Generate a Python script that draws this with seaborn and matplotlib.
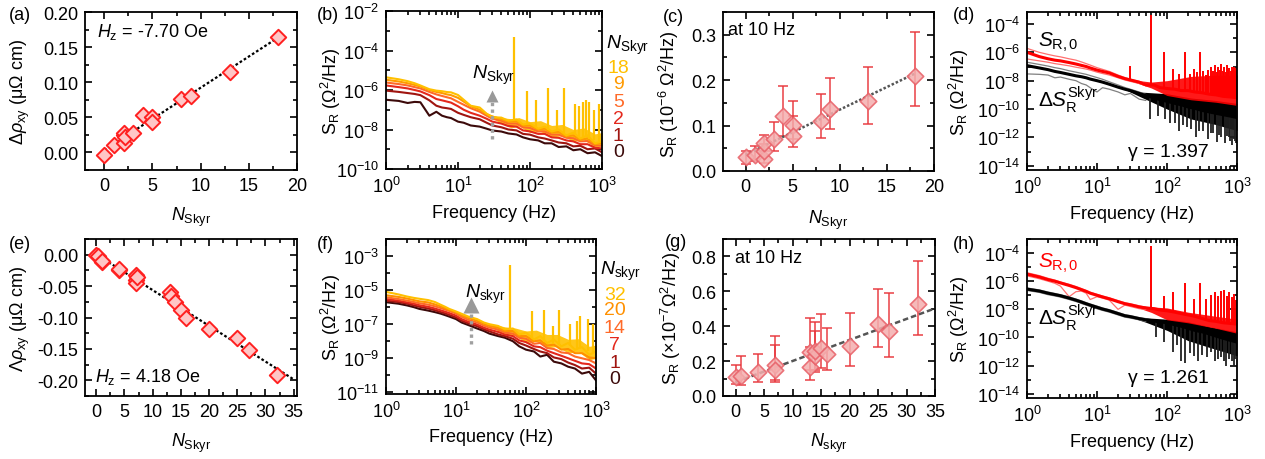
import numpy as np
import matplotlib
matplotlib.use("Agg")
import matplotlib.pyplot as plt
import matplotlib.ticker as mticker
import seaborn as sns

# ---------------- values ----------------
# (a) Hz = -7.70 Oe
n_a = [0, 1, 2, 2, 2, 2.2, 3, 4, 5, 5, 8, 9, 13, 18]
rho_a = [-0.004, 0.010, 0.014, 0.025, 0.027, 0.022, 0.028, 0.054, 0.051, 0.044,
         0.076, 0.080, 0.115, 0.164]
fit_range_a = [0, 18]

# (e) Hz = 4.18 Oe
n_e = [0, 0.3, 1, 1, 4, 4, 7, 7, 7, 7.2, 13, 13.2, 14, 15, 16, 20, 25, 27, 32]
rho_e = [0.0, -0.002, -0.011, -0.010, -0.024, -0.022, -0.033, -0.040, -0.045, -0.035,
         -0.060, -0.066, -0.076, -0.088, -0.101, -0.118, -0.132, -0.151, -0.192]
fit_range_e = [0, 35]

# (c) S_R at 10 Hz (1e-6 Ohm^2/Hz), with error bar ends
n_c = [0, 1, 2, 2, 2, 3, 4, 5, 5, 8, 9, 13, 18]
s_c = [0.030, 0.035, 0.027, 0.045, 0.062, 0.070, 0.120, 0.101, 0.078, 0.110, 0.136, 0.155, 0.210]
lo_c = [0.016, 0.023, 0.018, 0.032, 0.045, 0.044, 0.078, 0.070, 0.052, 0.073, 0.092, 0.103, 0.144]
hi_c = [0.044, 0.055, 0.036, 0.060, 0.080, 0.107, 0.187, 0.122, 0.153, 0.169, 0.205, 0.229, 0.306]
fit_range_c = [0, 18]

# (g) S_R at 10 Hz (1e-7 Ohm^2/Hz)
n_g = [0, 1, 4, 7, 7, 13, 13, 14, 14, 15, 16, 20, 25, 27, 32]
s_g = [0.109, 0.115, 0.137, 0.176, 0.150, 0.166, 0.252, 0.230, 0.260, 0.277, 0.240, 0.285,
       0.415, 0.370, 0.526]
lo_g = [0.067, 0.062, 0.080, 0.094, 0.080, 0.090, 0.150, 0.140, 0.150, 0.160, 0.150, 0.170,
        0.280, 0.225, 0.350]
hi_g = [0.180, 0.230, 0.240, 0.345, 0.290, 0.445, 0.280, 0.425, 0.370, 0.470, 0.390, 0.478,
        0.615, 0.590, 0.773]
fit_range_g = [0, 35]

# frequency grid of the spectra (Hz)
freq = [1, 1.5, 2, 2.5, 3, 4, 5, 6, 7, 8, 10, 12, 15, 20, 25, 30, 40, 50, 65, 80,
        100, 130, 160, 200, 250, 320, 400, 500, 630, 800, 1000]

# (b) spectra, N_Skyr = 0, 1, 2, 5, 9, 18
n_b = [0, 1, 2, 5, 9, 18]
sr_b = {
    0: [3.2e-7, 2.8e-7, 2.2e-7, 2.5e-7, 2.4e-7, 5.0e-8, 7.9e-8, 5.0e-8, 4.2e-8, 3.8e-8,
        2.5e-8, 2.2e-8, 1.6e-8, 1.4e-8, 1.1e-8, 8.9e-9, 7.9e-9, 6.3e-9, 5.6e-9, 4.0e-9,
        3.2e-9, 2.8e-9, 2.0e-9, 2.0e-9, 1.3e-9, 1.4e-9, 8.9e-10, 1.0e-9, 6.3e-10, 7.0e-10,
        4.5e-10],
    1: [9.3e-7, 8.0e-7, 7.0e-7, 6.3e-7, 5.5e-7, 3.0e-7, 1.6e-7, 1.3e-7, 1.2e-7, 1.1e-7,
        7.0e-8, 5.5e-8, 4.2e-8, 3.3e-8, 2.2e-8, 1.6e-8, 1.3e-8, 1.0e-8, 9.0e-9, 6.0e-9,
        5.5e-9, 4.0e-9, 3.5e-9, 2.8e-9, 2.2e-9, 2.0e-9, 1.4e-9, 1.5e-9, 1.0e-9, 1.1e-9,
        7.0e-10],
    2: [1.7e-6, 1.4e-6, 1.2e-6, 1.0e-6, 8.5e-7, 5.5e-7, 3.5e-7, 3.0e-7, 2.6e-7, 2.3e-7,
        1.5e-7, 1.0e-7, 7.0e-8, 5.0e-8, 3.5e-8, 2.5e-8, 2.0e-8, 1.5e-8, 1.4e-8, 9.0e-9,
        8.0e-9, 6.0e-9, 6.0e-9, 4.0e-9, 3.8e-9, 2.8e-9, 2.5e-9, 1.8e-9, 1.8e-9, 1.2e-9,
        1.1e-9],
    5: [2.4e-6, 2.0e-6, 1.7e-6, 1.4e-6, 1.2e-6, 8.0e-7, 6.0e-7, 5.0e-7, 4.3e-7, 3.8e-7,
        2.5e-7, 1.8e-7, 1.2e-7, 8.0e-8, 5.0e-8, 3.5e-8, 2.8e-8, 2.0e-8, 2.0e-8, 1.3e-8,
        1.2e-8, 8.0e-9, 8.0e-9, 5.5e-9, 5.5e-9, 3.8e-9, 3.6e-9, 2.5e-9, 2.6e-9, 1.6e-9,
        1.5e-9],
    9: [3.3e-6, 2.7e-6, 2.2e-6, 1.8e-6, 1.5e-6, 1.0e-6, 8.0e-7, 7.0e-7, 6.0e-7, 5.5e-7,
        4.0e-7, 2.6e-7, 1.5e-7, 1.0e-7, 6.0e-8, 4.5e-8, 3.3e-8, 2.5e-8, 2.6e-8, 1.6e-8,
        1.6e-8, 1.0e-8, 1.1e-8, 7.0e-9, 7.5e-9, 4.5e-9, 5.0e-9, 3.0e-9, 3.5e-9, 1.8e-9,
        2.0e-9],
    18: [4.4e-6, 3.5e-6, 2.8e-6, 2.2e-6, 1.7e-6, 1.1e-6, 9.3e-7, 8.7e-7, 7.9e-7, 7.6e-7,
         5.6e-7, 3.2e-7, 1.6e-7, 1.3e-7, 6.3e-8, 4.2e-8, 4.0e-8, 2.8e-8, 3.2e-8, 1.8e-8,
         2.0e-8, 1.1e-8, 1.4e-8, 7.9e-9, 1.0e-8, 5.0e-9, 7.0e-9, 3.5e-9, 5.0e-9, 2.0e-9,
         2.5e-9],
}
# dense noise band of the top (gold) spectrum at high frequency
band_f_b = [25, 40, 55, 70, 100, 140, 200, 280, 400, 560, 800, 1000]
band_lo_b = [5.5e-8, 2e-8, 1.2e-8, 1.5e-8, 7e-9, 8e-9, 4e-9, 5e-9, 2.5e-9, 3e-9, 1.2e-9, 1.5e-9]
band_hi_b = [6.5e-8, 4e-8, 3.5e-8, 4e-8, 2.5e-8, 2.8e-8, 1.6e-8, 1.8e-8, 1e-8, 1.2e-8, 6e-9, 7e-9]
spike_f_b = [60, 90, 120, 180, 240, 300, 420, 480, 540, 600, 660, 780, 900]
spike_lo_b = [3e-8, 2e-8, 1.2e-8, 1e-8, 9e-9, 7e-9, 5e-9, 4e-9, 4e-9, 4e-9, 3.5e-9, 3e-9, 2.5e-9]
spike_hi_b = [4.7e-4, 8.5e-7, 3e-7, 1.2e-6, 1e-7, 1.3e-6, 2e-7, 1.5e-7, 2.5e-7, 3e-7, 2.5e-7,
              1e-7, 2e-7]

# (f) spectra, N_skyr = 0, 1, 7, 14, 20, 32
n_f = [0, 1, 7, 14, 20, 32]
sr_f = {
    0: [1.95e-6, 1.6e-6, 1.26e-6, 1.0e-6, 7.9e-7, 6.3e-7, 5.1e-7, 4.2e-7, 3.4e-7, 2.8e-7,
        2.0e-7, 1.26e-7, 8.9e-8, 5.6e-8, 4.0e-8, 2.8e-8, 2.0e-8, 1.6e-8, 1.0e-8, 5.0e-9,
        3.2e-9, 2.5e-9, 1.26e-9, 1.6e-9, 6.3e-10, 5.0e-10, 3.2e-10, 2.5e-10, 1.26e-10, 1.6e-10,
        5.0e-11],
    1: [2.4e-6, 2.0e-6, 1.6e-6, 1.26e-6, 1.05e-6, 8.3e-7, 6.6e-7, 5.2e-7, 4.3e-7, 3.5e-7,
        2.5e-7, 1.6e-7, 1.12e-7, 7.6e-8, 5.0e-8, 3.8e-8, 2.5e-8, 2.0e-8, 1.4e-8, 7.9e-9,
        5.6e-9, 3.5e-9, 2.5e-9, 2.0e-9, 1.12e-9, 8.9e-10, 5.6e-10, 4.0e-10, 2.5e-10, 2.8e-10,
        1.26e-10],
    7: [3.0e-6, 2.4e-6, 1.9e-6, 1.6e-6, 1.3e-6, 1.05e-6, 8.3e-7, 6.6e-7, 5.4e-7, 4.5e-7,
        3.2e-7, 2.0e-7, 1.4e-7, 9.5e-8, 6.3e-8, 4.8e-8, 3.5e-8, 2.5e-8, 2.0e-8, 1.12e-8,
        8.9e-9, 5.0e-9, 4.5e-9, 2.8e-9, 2.0e-9, 1.4e-9, 1.0e-9, 7.1e-10, 5.0e-10, 4.5e-10,
        2.5e-10],
    14: [3.8e-6, 3.0e-6, 2.4e-6, 2.0e-6, 1.7e-6, 1.4e-6, 1.12e-6, 8.9e-7, 7.2e-7, 6.0e-7,
         4.2e-7, 2.7e-7, 1.8e-7, 1.26e-7, 8.3e-8, 6.3e-8, 4.8e-8, 3.2e-8, 2.8e-8, 1.6e-8,
         1.4e-8, 7.1e-9, 7.9e-9, 4.0e-9, 3.5e-9, 2.2e-9, 2.0e-9, 1.26e-9, 1.0e-9, 7.9e-10,
         5.0e-10],
    20: [5.0e-6, 4.0e-6, 3.2e-6, 2.6e-6, 2.2e-6, 1.9e-6, 1.45e-6, 1.12e-6, 8.7e-7, 6.9e-7,
         5.0e-7, 3.3e-7, 2.3e-7, 1.6e-7, 1.05e-7, 7.9e-8, 6.3e-8, 4.0e-8, 4.0e-8, 2.0e-8,
         2.0e-8, 1.0e-8, 1.12e-8, 5.6e-9, 6.3e-9, 3.2e-9, 3.5e-9, 2.0e-9, 2.0e-9, 1.12e-9,
         1.0e-9],
    32: [7.9e-6, 5.6e-6, 4.2e-6, 3.5e-6, 3.1e-6, 2.6e-6, 2.0e-6, 1.4e-6, 1.05e-6, 7.9e-7,
         5.6e-7, 4.1e-7, 2.8e-7, 2.0e-7, 1.26e-7, 1.0e-7, 7.9e-8, 5.0e-8, 5.6e-8, 2.5e-8,
         3.2e-8, 1.26e-8, 2.0e-8, 7.9e-9, 1.26e-8, 5.0e-9, 7.9e-9, 3.2e-9, 4.5e-9, 1.6e-9,
         2.5e-9],
}
band_f_f = [30, 50, 70, 100, 140, 200, 280, 400, 560, 800, 1000]
band_lo_f = [9e-8, 2e-8, 2.2e-8, 8e-9, 1e-8, 4e-9, 5e-9, 2e-9, 2.5e-9, 8e-10, 1e-9]
band_hi_f = [1.1e-7, 7e-8, 6e-8, 4e-8, 4.5e-8, 2.5e-8, 2.5e-8, 1.3e-8, 1.4e-8, 5e-9, 6e-9]
spike_f_f = [60, 120, 180, 240, 300, 420, 540, 600, 780, 900]
spike_lo_f = [5e-8, 1.3e-8, 9e-9, 7e-9, 6e-9, 5e-9, 4e-9, 4e-9, 2.5e-9, 2e-9]
spike_hi_f = [2.8e-4, 6e-7, 6.5e-7, 8e-8, 7e-7, 1e-7, 1.5e-7, 3e-7, 2e-7, 1e-7]

# (d) S_R,0 (red) and Delta S_R^Skyr (black), Hz = -7.70 Oe
sr0_d = [1.0e-6, 5.0e-7, 3.5e-7, 2.8e-7, 2.5e-7, 1.9e-7, 1.5e-7, 1.2e-7, 1.0e-7, 7.9e-8,
         5.6e-8, 4.5e-8, 3.5e-8, 2.0e-8, 1.4e-8, 1.12e-8, 7.9e-9, 5.0e-9, 5.0e-9, 3.2e-9,
         2.8e-9, 2.5e-9, 2.0e-9, 2.0e-9, 1.6e-9, 1.4e-9, 1.12e-9, 1.0e-9, 7.9e-10, 7.1e-10,
         6.3e-10]
sr0_hi_d = [1.9e-6, 1.0e-6, 7.1e-7, 5.6e-7, 4.8e-7, 3.5e-7, 2.8e-7, 2.1e-7, 1.6e-7, 1.26e-7,
            8.3e-8, 6.3e-8, 4.5e-8, 2.5e-8, 1.66e-8, 1.26e-8, 8.9e-9, 5.6e-9]
sr0_lo_d = [3.4e-7, 2.5e-7, 2.0e-7, 1.6e-7, 1.4e-7, 1.12e-7, 8.9e-8, 7.6e-8, 6.6e-8, 5.6e-8,
            4.0e-8, 3.2e-8, 2.5e-8, 1.6e-8, 1.12e-8, 8.9e-9, 6.3e-9, 4.5e-9]
dsk_d = [1.15e-7, 7.9e-8, 6.0e-8, 4.5e-8, 3.8e-8, 2.8e-8, 2.2e-8, 1.9e-8, 1.6e-8, 1.3e-8,
         1.0e-8, 7.9e-9, 5.6e-9, 3.5e-9, 2.5e-9, 2.0e-9, 1.26e-9, 8.9e-10, 6.3e-10, 4.5e-10,
         3.5e-10, 2.5e-10, 2.0e-10, 1.4e-10, 1.12e-10, 7.9e-11, 6.3e-11, 5.0e-11, 4.0e-11, 3.2e-11,
         2.5e-11]
dsk_hi_d = [2.0e-7, 1.4e-7, 1.07e-7, 8.3e-8, 7.1e-8, 5.0e-8, 4.0e-8, 3.3e-8, 2.8e-8, 2.3e-8,
            1.66e-8, 1.26e-8, 8.3e-9, 5.0e-9, 3.3e-9, 2.5e-9, 1.6e-9, 1.05e-9]
dsk_lo_d = [3.0e-8, 2.8e-8, 2.5e-8, 1.6e-8, 1.8e-8, 1.26e-8, 1.0e-8, 6.3e-9, 5.0e-9, 3.2e-9,
            1.6e-9, 3.2e-9, 2.5e-9, 1.6e-9, 1.0e-9, 1.26e-9, 5.0e-10, 4.0e-10]
band_f_d = [25, 40, 100, 220, 500, 1000]
dsk_band_hi_d = [2.6e-9, 1.6e-9, 1.2e-9, 6e-10, 4e-10, 2.5e-10]
dsk_band_lo_d = [2.4e-9, 8e-10, 1e-10, 2e-11, 8e-12, 3e-12]
sr0_band_f_d = [30, 60, 100, 220, 500, 1000]
sr0_band_lo_d = [1e-8, 3e-9, 9e-10, 4.5e-10, 3e-10, 1.8e-10]
sr0_band_hi_d = [1.2e-8, 8e-9, 1e-8, 2e-8, 2.5e-8, 2.5e-8]
spike_f_d = [30, 60, 90, 120, 150, 180, 210, 240, 270, 300, 330, 360, 390, 420, 450, 480,
             510, 540, 570, 600, 630, 660, 690, 720, 750, 780, 810, 840, 870, 900, 930, 960]
spike_lo_d = [1e-8, 5e-9, 3e-9, 2.5e-9, 2.2e-9, 2e-9, 2e-9, 2e-9, 1.8e-9, 1.5e-9, 1.5e-9,
              1.3e-9, 1.2e-9, 1.1e-9, 1.1e-9, 1e-9, 1e-9, 1e-9, 1e-9, 9e-10, 9e-10, 8e-10,
              8e-10, 8e-10, 7.5e-10, 7.5e-10, 7e-10, 7e-10, 7e-10, 7e-10, 6.5e-10, 6.5e-10]
spike_hi_d = [1.1e-7, 4e-4, 1e-6, 7e-8, 3e-8, 1e-6, 3e-8, 7e-8, 4e-8, 1e-6, 5e-8, 2.5e-8,
              6e-8, 1e-7, 5e-8, 1.2e-7, 4e-8, 1e-7, 6e-8, 1.5e-7, 5e-8, 1e-7, 4e-8, 1.2e-7,
              6e-8, 8e-8, 5e-8, 1e-7, 6e-8, 1e-7, 5e-8, 8e-8]
dip_f_d = [57, 75, 95, 110, 130, 150, 170, 190, 220, 260, 290, 330, 380, 420, 450, 520,
           560, 600, 680, 720, 760, 800, 850, 900, 940, 980]
dip_hi_d = [8e-10, 5e-10, 4e-10, 3e-10, 2.5e-10, 2e-10, 1.8e-10, 1.5e-10, 1.3e-10, 1.1e-10,
            9e-11, 8e-11, 7e-11, 6.5e-11, 6e-11, 5e-11, 4.8e-11, 4.5e-11, 4e-11, 3.8e-11,
            3.5e-11, 3.2e-11, 3e-11, 2.8e-11, 2.7e-11, 2.5e-11]
dip_lo_d = [2e-11, 3e-11, 2e-11, 1e-11, 1e-11, 3e-12, 8e-12, 5e-12, 4e-12, 1e-12,
            3e-12, 3e-12, 8e-13, 2e-12, 2e-12, 5e-13, 1.5e-12, 1e-12, 4e-13, 1.2e-12,
            1e-12, 6e-13, 3e-13, 8e-13, 6e-13, 4e-13]

# (h) S_R,0 (red) and Delta S_R^Skyr (black), Hz = 4.18 Oe
sr0_h = [3.2e-6, 2.0e-6, 1.3e-6, 1.0e-6, 7.6e-7, 5.0e-7, 3.5e-7, 2.5e-7, 1.9e-7, 1.4e-7,
         1.0e-7, 7.6e-8, 5.6e-8, 3.5e-8, 2.5e-8, 2.1e-8, 1.5e-8, 1.26e-8, 1.12e-8, 8.9e-9,
         7.9e-9, 6.3e-9, 5.0e-9, 4.0e-9, 3.2e-9, 2.2e-9, 1.6e-9, 1.4e-9, 1.12e-9, 1.0e-9,
         8.9e-10]
sr0_hi_h = [4.0e-6, 2.5e-6, 1.6e-6, 1.2e-6, 8.9e-7, 6.0e-7, 4.2e-7, 3.0e-7, 2.2e-7, 1.66e-7,
            1.17e-7, 8.9e-8, 6.6e-8, 4.2e-8, 3.0e-8, 2.5e-8, 1.8e-8, 1.4e-8]
sr0_lo_h = [2.4e-6, 1.5e-6, 1.0e-6, 7.1e-7, 4.5e-7, 7.9e-8, 1.8e-7, 2.0e-7, 1.4e-7, 5.0e-8,
            7.9e-8, 6.3e-8, 4.5e-8, 1.0e-8, 2.0e-8, 1.6e-8, 1.12e-8, 1.0e-8]
dsk_h = [2.75e-7, 2.0e-7, 1.4e-7, 1.12e-7, 9.3e-8, 6.3e-8, 4.5e-8, 3.3e-8, 2.5e-8, 2.0e-8,
         1.4e-8, 1.05e-8, 7.9e-9, 5.0e-9, 3.5e-9, 3.0e-9, 2.2e-9, 1.8e-9, 1.5e-9, 1.26e-9,
         1.12e-9, 7.9e-10, 6.3e-10, 4.5e-10, 3.2e-10, 2.5e-10, 1.8e-10, 1.26e-10, 8.9e-11, 6.3e-11,
         4.7e-11]
dsk_hi_h = [3.3e-7, 2.4e-7, 1.7e-7, 1.35e-7, 1.1e-7, 7.6e-8, 5.4e-8, 4.0e-8, 3.0e-8, 2.4e-8,
            1.7e-8, 1.26e-8, 9.5e-9, 6.0e-9, 4.2e-9, 3.6e-9, 2.6e-9, 2.2e-9]
dsk_lo_h = [2.2e-7, 1.6e-7, 1.1e-7, 9.0e-8, 7.4e-8, 5.0e-8, 3.6e-8, 2.6e-8, 2.0e-8, 1.6e-8,
            1.1e-8, 8.4e-9, 6.3e-9, 4.0e-9, 2.8e-9, 2.4e-9, 1.8e-9, 1.4e-9]
band_f_h = [30, 50, 100, 200, 400, 1000]
dsk_band_hi_h = [3.2e-9, 2.5e-9, 2e-9, 1.3e-9, 6e-10, 2.5e-10]
dsk_band_lo_h = [2.8e-9, 1.2e-9, 3.2e-10, 6e-11, 2e-11, 5e-12]
sr0_band_f_h = [30, 60, 100, 200, 500, 1000]
sr0_band_lo_h = [2e-8, 6e-9, 1.8e-9, 1.1e-9, 4.5e-10, 2e-10]
sr0_band_hi_h = [2.2e-8, 1.5e-8, 1.26e-8, 6.3e-9, 3.2e-9, 2e-9]
spike_f_h = [60, 90, 120, 180, 240, 300, 360, 420, 480, 540, 600, 660, 720, 780, 840, 900, 960]
spike_lo_h = [1.1e-8, 8e-9, 6.3e-9, 4.5e-9, 4e-9, 3e-9, 2.2e-9, 1.8e-9, 1.5e-9, 1.3e-9,
              1.2e-9, 1.1e-9, 1e-9, 1e-9, 9e-10, 9e-10, 9e-10]
spike_hi_h = [3e-4, 9e-8, 1.6e-7, 8e-7, 5.5e-8, 8e-7, 5.5e-8, 1.1e-7, 1.6e-7, 9e-8, 2e-7,
              2.5e-7, 9e-8, 1.6e-7, 7e-8, 1.2e-7, 5e-8]
dip_f_h = [70, 90, 120, 140, 160, 180, 210, 240, 280, 320, 370, 430, 490, 540, 590, 650,
           700, 770, 840, 900, 950]
dip_hi_h = [1.4e-9, 1.2e-9, 8e-10, 7e-10, 6.3e-10, 5.5e-10, 4.5e-10, 4e-10, 3.5e-10, 2.5e-10,
            2e-10, 1.6e-10, 1.3e-10, 1.1e-10, 1e-10, 9e-11, 8e-11, 7e-11, 6e-11, 5.5e-11, 5e-11]
dip_lo_h = [1e-10, 5e-11, 1e-11, 3e-11, 2e-12, 1.5e-12, 8e-12, 5e-12, 2e-12, 6e-12,
            4e-12, 1e-11, 2e-12, 3e-12, 4e-12, 2e-12, 1e-12, 3e-12, 2e-12, 1e-12, 3e-12]

gamma_d = "γ = 1.397"
gamma_h = "γ = 1.261"

# ---------------- style ----------------
sns.set_theme(style="ticks")
plt.rcParams.update({
    "mathtext.fontset": "custom",
    "mathtext.rm": "Liberation Sans",
    "mathtext.it": "Liberation Sans:italic",
    "mathtext.bf": "Liberation Sans:bold",
    "mathtext.sf": "Liberation Sans",
    "axes.unicode_minus": False,
    "xtick.direction": "in",
    "ytick.direction": "in",
    "axes.edgecolor": "black",
    "axes.linewidth": 1.3,
    "text.color": "black",
    "axes.labelcolor": "black",
    "xtick.color": "black",
    "ytick.color": "black",
})
plt.rcParams["font.family"] = ["Liberation Sans", "DejaVu Sans"]

FS = 13
W, H = 1265, 460
fig = plt.figure(figsize=(W / 100, H / 100), dpi=100)


def add_ax(l, r, t, b):
    return fig.add_axes([l / W, 1 - b / H, (r - l) / W, (b - t) / H])


def style(ax):
    ax.tick_params(which="both", direction="in", top=True, right=True,
                   labelsize=FS, width=1.2, pad=5)
    ax.tick_params(which="major", length=5)
    ax.tick_params(which="minor", length=3)
    for s in ax.spines.values():
        s.set_linewidth(1.3)


def log_style(ax, ylim, major, minor):
    ax.set_xscale("log")
    ax.set_yscale("log")
    ax.set_xlim(1, 1000)
    ax.set_ylim(*ylim)
    ax.xaxis.set_major_locator(mticker.LogLocator(base=10))
    ax.xaxis.set_minor_locator(mticker.LogLocator(base=10, subs=np.arange(2, 10)))
    ax.xaxis.set_minor_formatter(mticker.NullFormatter())
    ax.yaxis.set_major_locator(mticker.FixedLocator(major))
    ax.yaxis.set_major_formatter(mticker.LogFormatterSciNotation())
    ax.yaxis.set_minor_locator(mticker.FixedLocator(minor))
    ax.yaxis.set_minor_formatter(mticker.NullFormatter())
    ax.set_xlabel("Frequency (Hz)", fontsize=FS)
    style(ax)


NSKYR = r"$\mathit{N}_{\mathrm{Skyr}}$"
NSKYR_L = r"$\mathit{N}_{\mathrm{skyr}}$"
XLAB_Y = -0.22

# ---------------- (a) ----------------
ax = add_ax(85, 297, 13, 171)
coef = np.polyfit(n_a, rho_a, 1)
xf = np.array(fit_range_a)
ax.plot(xf, np.polyval(coef, xf), color="black", ls=(0, (1.2, 1)), lw=1.6, zorder=2)
sns.scatterplot(x=n_a, y=rho_a, ax=ax, marker="D", s=62, color="#FFC6C6",
                edgecolor="#FF2020", linewidth=1.4, zorder=3)
ax.set_xlim(-2, 20)
ax.set_ylim(-0.025, 0.2)
ax.xaxis.set_major_locator(mticker.MultipleLocator(5))
ax.xaxis.set_minor_locator(mticker.MultipleLocator(2.5))
ax.yaxis.set_major_locator(mticker.MultipleLocator(0.05))
ax.yaxis.set_minor_locator(mticker.MultipleLocator(0.025))
ax.yaxis.set_major_formatter(mticker.FormatStrFormatter("%.2f"))
ax.set_xlabel(NSKYR, fontsize=FS)
ax.set_ylabel(r"$\Delta\rho_{\mathrm{xy}}$ (μΩ cm)", fontsize=FS)
ax.xaxis.set_label_coords(0.5, XLAB_Y)
ax.yaxis.set_label_coords(-0.25, 0.5)
ax.text(0.055, 0.88, r"$\mathit{H}_{\mathrm{z}}$ = -7.70 Oe", transform=ax.transAxes,
        fontsize=FS, va="center")
style(ax)

# ---------------- (e) ----------------
ax = add_ax(85, 297, 240, 397)
coef = np.polyfit(n_e, rho_e, 1)
xf = np.array(fit_range_e)
ax.plot(xf, np.polyval(coef, xf), color="black", ls=(0, (1.2, 1)), lw=1.6, zorder=2)
sns.scatterplot(x=n_e, y=rho_e, ax=ax, marker="D", s=62, color="#FFC6C6",
                edgecolor="#FF2020", linewidth=1.4, zorder=3)
ax.set_xlim(-2, 35.6)
ax.set_ylim(-0.225, 0.025)
ax.xaxis.set_major_locator(mticker.MultipleLocator(5))
ax.xaxis.set_minor_locator(mticker.MultipleLocator(2.5))
ax.yaxis.set_major_locator(mticker.MultipleLocator(0.05))
ax.yaxis.set_minor_locator(mticker.MultipleLocator(0.025))
ax.yaxis.set_major_formatter(mticker.FormatStrFormatter("%.2f"))
ax.set_xlabel(NSKYR, fontsize=FS)
ax.set_ylabel(r"$\Lambda\rho_{\mathrm{xy}}$ (μΩ cm)", fontsize=FS)
ax.xaxis.set_label_coords(0.5, XLAB_Y)
ax.yaxis.set_label_coords(-0.25, 0.5)
ax.text(0.045, 0.13, r"$\mathit{H}_{\mathrm{z}}$ = 4.18 Oe", transform=ax.transAxes,
        fontsize=FS, va="center")
style(ax)


# ---------------- spectra helper for (b) and (f) ----------------
def stacked_spectra(ax, levels, curves, colors, band_f, band_lo, band_hi,
                    spike_f, spike_lo, spike_hi):
    for n in levels:
        sns.lineplot(x=freq, y=curves[n], ax=ax, color=colors[n], lw=1.5,
                     estimator=None, sort=False)
    top = colors[levels[-1]]
    ax.fill_between(band_f, band_lo, band_hi, color=top, lw=0, alpha=0.9)
    ax.vlines(spike_f, spike_lo, spike_hi, color=top, lw=1.6)


colors_b = {0: "#3C0A0A", 1: "#A01510", 2: "#E4281C", 5: "#FF6A28", 9: "#FF9A00", 18: "#FFC000"}
ax = add_ax(386, 602, 12, 170)
stacked_spectra(ax, n_b, sr_b, colors_b, band_f_b, band_lo_b, band_hi_b,
                spike_f_b, spike_lo_b, spike_hi_b)
log_style(ax, (1e-10, 1e-2), [1e-10, 1e-8, 1e-6, 1e-4, 1e-2], [1e-9, 1e-7, 1e-5, 1e-3])
ax.set_ylabel(r"S$_{\mathrm{R}}$ (Ω$^{2}$/Hz)", fontsize=FS)
ax.xaxis.set_label_coords(0.5, XLAB_Y)
ax.yaxis.set_label_coords(-0.2, 0.5)
ax.plot([30, 30], [3.3e-9, 2.6e-7], color="#A0A0A0", ls=(0, (1, 1)), lw=2.4)
ax.plot([30], [5e-7], marker="^", ms=9, color="#999999", mec="none")
ax.text(31, 6.5e-6, NSKYR, fontsize=14, ha="center", va="center", color="black")
ax.text(1.02, 0.79, NSKYR, transform=ax.transAxes, fontsize=14, va="center")
for n, yy in zip([18, 9, 5, 2, 1, 0], [0.645, 0.538, 0.43, 0.322, 0.214, 0.108]):
    ax.text(1.075, yy, str(n), transform=ax.transAxes, fontsize=14, ha="center",
            va="center", color=colors_b[n])

colors_f = {0: "#3C0A0A", 1: "#A01510", 7: "#E4281C", 14: "#FF6A28", 20: "#FF9000", 32: "#FFC000"}
ax = add_ax(386, 596, 240, 395)
stacked_spectra(ax, n_f, sr_f, colors_f, band_f_f, band_lo_f, band_hi_f,
                spike_f_f, spike_lo_f, spike_hi_f)
log_style(ax, (8e-12, 1e-2), [1e-11, 1e-9, 1e-7, 1e-5, 1e-3], [1e-10, 1e-8, 1e-6, 1e-4, 1e-2])
ax.set_ylabel(r"S$_{\mathrm{R}}$ (Ω$^{2}$/Hz)", fontsize=FS)
ax.xaxis.set_label_coords(0.5, XLAB_Y)
ax.yaxis.set_label_coords(-0.205, 0.5)
ax.plot([16.4, 16.4], [7e-9, 6e-7], color="#A0A0A0", ls=(0, (1, 1)), lw=2.4)
ax.plot([16.4], [1.26e-6], marker="^", ms=11, color="#999999", mec="none")
ax.text(26, 6e-6, NSKYR_L, fontsize=14, ha="center", va="center", color="black")
ax.text(1.02, 0.795, NSKYR_L, transform=ax.transAxes, fontsize=14, va="center")
for n, yy in zip([32, 20, 14, 7, 1, 0], [0.645, 0.548, 0.43, 0.32, 0.2, 0.097]):
    ax.text(1.09, yy, str(n), transform=ax.transAxes, fontsize=14, ha="center",
            va="center", color=colors_f[n])


# ---------------- (c) and (g) ----------------
def noise_vs_n(ax, n, s, lo, hi, fit_range, ls):
    yerr = [np.subtract(s, lo), np.subtract(hi, s)]
    ax.errorbar(n, s, yerr=yerr, fmt="none", ecolor="#E8363C", alpha=0.75,
                elinewidth=1.4, capsize=3.5, capthick=1.4, zorder=2)
    coef = np.polyfit(n, s, 1)
    xf = np.array(fit_range)
    ax.plot(xf, np.polyval(coef, xf), color="#555555", ls=ls, lw=1.8, zorder=3)
    sns.scatterplot(x=n, y=s, ax=ax, marker="D", s=70, color="#F4AEAE",
                    edgecolor="#E86068", linewidth=1.2, alpha=0.85, zorder=4)


ax = add_ax(723, 934, 13, 172)
noise_vs_n(ax, n_c, s_c, lo_c, hi_c, fit_range_c, (0, (1, 0.8)))
ax.set_xlim(-2.4, 20)
ax.set_ylim(0, 0.35)
ax.xaxis.set_major_locator(mticker.MultipleLocator(5))
ax.xaxis.set_minor_locator(mticker.MultipleLocator(2.5))
ax.yaxis.set_major_locator(mticker.MultipleLocator(0.1))
ax.yaxis.set_minor_locator(mticker.MultipleLocator(0.05))
ax.yaxis.set_major_formatter(mticker.FormatStrFormatter("%.1f"))
ax.set_xlabel(NSKYR, fontsize=FS)
ax.set_ylabel(r"S$_{\mathrm{R}}$ (10$^{-6}$ Ω$^{2}$/Hz)", fontsize=FS)
ax.xaxis.set_label_coords(0.5, -0.23)
ax.yaxis.set_label_coords(-0.2, 0.49)
ax.text(0.025, 0.893, "at 10 Hz", transform=ax.transAxes, fontsize=FS, va="center")
style(ax)

ax = add_ax(723, 935, 240, 397)
noise_vs_n(ax, n_g, s_g, lo_g, hi_g, fit_range_g, (0, (2.2, 1.2)))
ax.set_xlim(-2.2, 35)
ax.set_ylim(0, 0.9)
ax.xaxis.set_major_locator(mticker.MultipleLocator(5))
ax.xaxis.set_minor_locator(mticker.MultipleLocator(2.5))
ax.yaxis.set_major_locator(mticker.MultipleLocator(0.2))
ax.yaxis.set_minor_locator(mticker.MultipleLocator(0.1))
ax.yaxis.set_major_formatter(mticker.FormatStrFormatter("%.1f"))
ax.set_xlabel(NSKYR_L, fontsize=FS)
ax.set_ylabel(r"S$_{\mathrm{R}}$ (×10$^{-7}$Ω$^{2}$/Hz)", fontsize=FS)
ax.xaxis.set_label_coords(0.5, XLAB_Y)
ax.yaxis.set_label_coords(-0.19, 0.5)
ax.text(0.057, 0.885, "at 10 Hz", transform=ax.transAxes, fontsize=FS, va="center")
style(ax)


# ---------------- (d) and (h) ----------------
def decomposed(ax, sr0, sr0_hi, sr0_lo, dsk, dsk_hi, dsk_lo,
               bf, bhi, blo, rbf, rblo, rbhi, sf, slo, shi, df, dhi, dlo):
    f18 = freq[:len(sr0_hi)]
    sns.lineplot(x=f18, y=sr0_hi, ax=ax, color="#FF7070", lw=0.9, estimator=None, sort=False)
    sns.lineplot(x=f18, y=sr0_lo, ax=ax, color="#FF7070", lw=0.9, estimator=None, sort=False)
    sns.lineplot(x=f18, y=dsk_hi, ax=ax, color="#808080", lw=0.9, estimator=None, sort=False)
    sns.lineplot(x=f18, y=dsk_lo, ax=ax, color="#808080", lw=0.9, estimator=None, sort=False)
    ax.fill_between(bf, blo, bhi, color="black", lw=0)
    ax.vlines(df, dlo, dhi, color="#202020", lw=1.3)
    sns.lineplot(x=freq, y=dsk, ax=ax, color="black", lw=2.2, estimator=None, sort=False)
    ax.fill_between(rbf, rblo, rbhi, color="#FF0000", lw=0, alpha=0.9)
    ax.vlines(sf, slo, shi, color="#FF0000", lw=1.4)
    sns.lineplot(x=freq, y=sr0, ax=ax, color="#FF0000", lw=2.2, estimator=None, sort=False)


ax = add_ax(1027, 1237, 13, 171)
decomposed(ax, sr0_d, sr0_hi_d, sr0_lo_d, dsk_d, dsk_hi_d, dsk_lo_d,
           band_f_d, dsk_band_hi_d, dsk_band_lo_d, sr0_band_f_d, sr0_band_lo_d, sr0_band_hi_d,
           spike_f_d, spike_lo_d, spike_hi_d, dip_f_d, dip_hi_d, dip_lo_d)
log_style(ax, (5e-15, 7e-4), [1e-14, 1e-12, 1e-10, 1e-8, 1e-6, 1e-4],
          [1e-13, 1e-11, 1e-9, 1e-7, 1e-5, 1e-3])
ax.set_ylabel(r"S$_{\mathrm{R}}$ (Ω$^{2}$/Hz)", fontsize=FS)
ax.xaxis.set_label_coords(0.5, XLAB_Y)
ax.yaxis.set_label_coords(-0.267, 0.5)
ax.text(0.05, 0.815, r"$\mathit{S}_{\mathrm{R,0}}$", transform=ax.transAxes, fontsize=15,
        va="center", color="black")
ax.text(0.05, 0.45, r"$\Delta\mathit{S}_{\mathrm{R}}^{\mathrm{Skyr}}$", transform=ax.transAxes,
        fontsize=15, va="center", color="black")
ax.text(0.48, 0.115, gamma_d, transform=ax.transAxes, fontsize=14, va="center")

ax = add_ax(1027, 1237, 240, 399)
decomposed(ax, sr0_h, sr0_hi_h, sr0_lo_h, dsk_h, dsk_hi_h, dsk_lo_h,
           band_f_h, dsk_band_hi_h, dsk_band_lo_h, sr0_band_f_h, sr0_band_lo_h, sr0_band_hi_h,
           spike_f_h, spike_lo_h, spike_hi_h, dip_f_h, dip_hi_h, dip_lo_h)
log_style(ax, (5e-15, 1e-3), [1e-14, 1e-12, 1e-10, 1e-8, 1e-6, 1e-4],
          [1e-13, 1e-11, 1e-9, 1e-7, 1e-5, 1e-3])
ax.set_ylabel(r"S$_{\mathrm{R}}$ (Ω$^{2}$/Hz)", fontsize=FS)
ax.xaxis.set_label_coords(0.5, XLAB_Y)
ax.yaxis.set_label_coords(-0.267, 0.5)
ax.text(0.05, 0.855, r"$\mathit{S}_{\mathrm{R,0}}$", transform=ax.transAxes, fontsize=15,
        va="center", color="#FF0000")
ax.text(0.05, 0.51, r"$\Delta\mathit{S}_{\mathrm{R}}^{\mathrm{Skyr}}$", transform=ax.transAxes,
        fontsize=15, va="center", color="black")
ax.text(0.48, 0.13, gamma_h, transform=ax.transAxes, fontsize=14, va="center")

# panel letters
for lab, x, y in [("(a)", 9, 15), ("(b)", 317, 15), ("(c)", 663, 18), ("(d)", 953, 15),
                  ("(e)", 9, 245), ("(f)", 317, 245), ("(g)", 665, 243), ("(h)", 953, 245)]:
    fig.text(x / W, 1 - y / H, lab, fontsize=FS, va="center", ha="left")

fig.savefig("out.png", dpi=100)
